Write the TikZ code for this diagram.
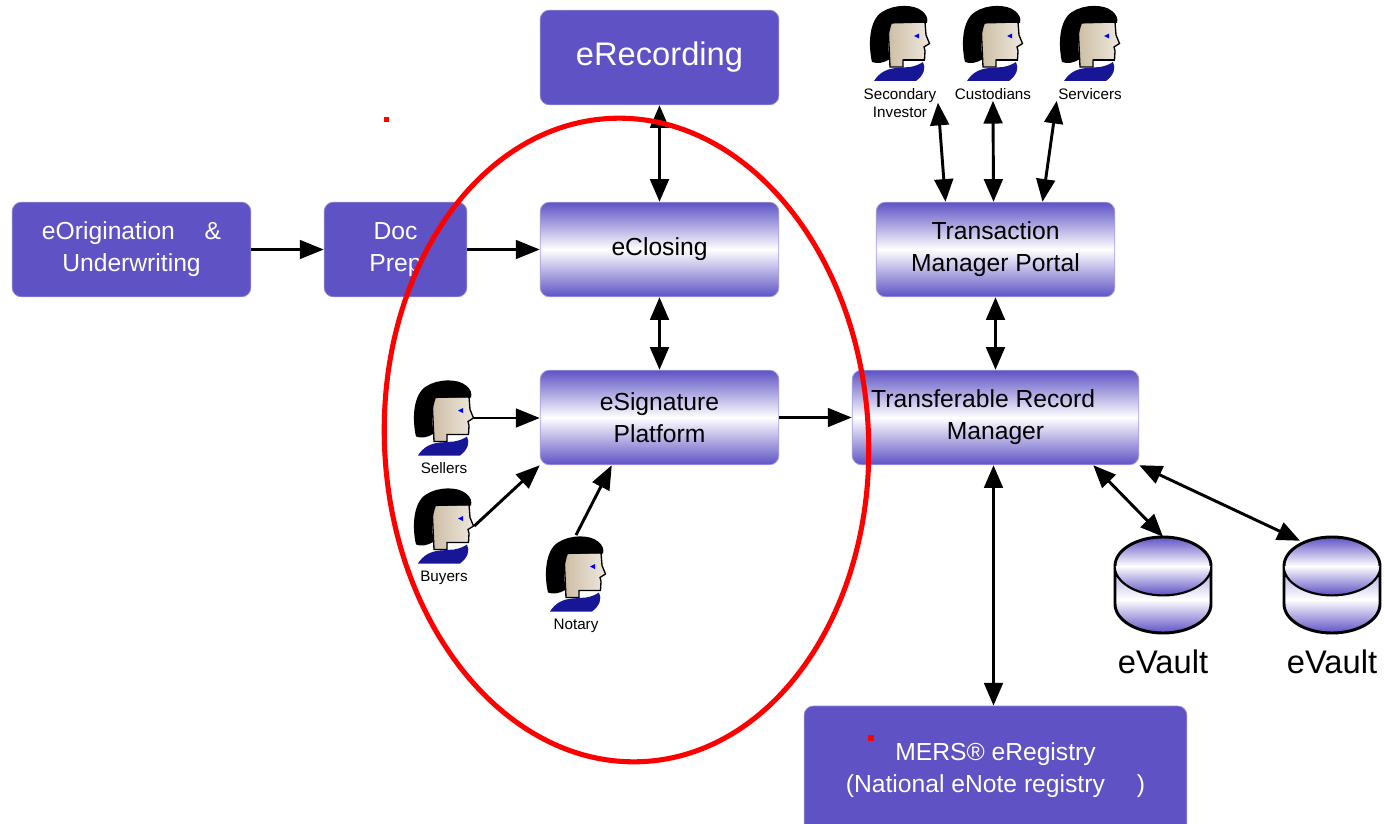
\documentclass[tikz,border=0pt]{standalone}
\usepackage{fontspec}
\setmainfont{Liberation Sans}
\usetikzlibrary{arrows.meta,calc}
\definecolor{boxblue}{RGB}{94,82,196}
\definecolor{facetan}{RGB}{205,190,165}
\definecolor{facelight}{RGB}{238,232,222}
\definecolor{collarblue}{RGB}{22,22,150}
\begin{document}
\begin{tikzpicture}[x=0.75pt, y=-0.75pt,
  solidbox/.style={rectangle, rounded corners=7pt, fill=boxblue, draw=boxblue!70, line width=0.6pt,
    text=white, align=center, inner sep=2pt, font=\fontsize{18.5}{24}\selectfont,
    minimum width=179pt, minimum height=71pt},
  shadebox/.style={rectangle, rounded corners=7pt, top color=boxblue, bottom color=boxblue, middle color=white,
    draw=boxblue!55, line width=0.6pt, align=center, inner sep=2pt, font=\fontsize{18.5}{24}\selectfont,
    minimum width=179pt, minimum height=71pt},
  personlabel/.style={align=center, inner sep=1pt, font=\fontsize{11.4}{13.5}\selectfont},
  arr/.style={-{Triangle[length=18pt, width=14pt]}, line width=2.2pt},
  dblarr/.style={{Triangle[length=17pt, width=14pt]}-{Triangle[length=17pt, width=14pt]}, line width=2.2pt},
  pics/person/.style={code={
    \begin{scope}[shift={(-30,-38.5)}]
      % face
      \path[left color=facetan, right color=facelight, draw=black, line width=1pt]
        (18,18) -- (55,17) -- (56,30) -- (59.5,38.5) -- (54,42) -- (55,46) -- (54.5,55)
        -- (33,55) -- (33,62) -- (20,62) -- cycle;
      % hair
      \fill[black] (2,57) .. controls (-2,40) and (-1,15) .. (12,7) .. controls (24,-1) and (44,-1) .. (52,6)
        .. controls (57,10) and (58,14) .. (57,18) -- (22,18) .. controls (18,28) and (17,42) .. (20,54)
        .. controls (14,58) and (7,59) .. (2,57) -- cycle;
      % collar
      \fill[collarblue] (4,76) .. controls (9,68) and (16,64) .. (26,63) -- (40,62)
        .. controls (46,61) and (50,59) .. (53,57) .. controls (56,63) and (54,70) .. (46,76) -- cycle;
      \draw[line width=1pt] (33,55) -- (55,55);
      \fill[blue] (44,31) -- (49,28.5) -- (49,33.5) -- cycle;
    \end{scope}
    \node[inner sep=0pt, minimum width=45pt, minimum height=58pt] (-icon) {};
    \node[personlabel, anchor=north] (-label) at (0,43) {#1};
  }},
  pics/vault/.style={code={
    \path[top color=boxblue!55, bottom color=boxblue, middle color=white, draw=black, line width=2.2pt]
      (-48,0) -- (-48,38) arc[start angle=180, end angle=0, x radius=48, y radius=29]
      -- (48,0) arc[start angle=0, end angle=180, x radius=48, y radius=29] -- cycle;
    \path[top color=boxblue, bottom color=boxblue, middle color=white, draw=black, line width=1pt]
      (0,0) ellipse [x radius=48, y radius=29];
    \draw[line width=2.2pt] (48,0) arc[start angle=0, end angle=-180, x radius=48, y radius=29];
    \node[inner sep=0pt, minimum size=72pt] (-body) at (0,19) {};
    \node[font=\fontsize{24.5}{30}\selectfont] (-label) at (0,96) {#1};
  }}]
  \useasboundingbox (0,0) rectangle (1385,824);

  % Boxes
  \node[solidbox, font=\fontsize{24.5}{30}\selectfont] at (659.5,57.5) (erec) {eRecording};
  \node[solidbox] at (131.5,249.5) (eorig) {eOrigination\hspace{1.2em}\&\\Underwriting};
  \node[solidbox, minimum width=107pt] at (395.5,249.5) (docprep) {Doc\\Prep};
  \node[shadebox] at (659.5,249.5) (eclose) {eClosing};
  \node[shadebox] at (659.5,417.5) (esig) {eSignature\\Platform};
  \node[shadebox] at (995.5,249.5) (tmp) {Transaction\\Manager Portal};
  \node[shadebox, minimum width=215pt] at (995.5,417.5) (trm) {Transferable Record\hspace*{1em}\\Manager};
  \node[solidbox, minimum width=287pt, minimum height=96pt] at (995.5,770) (mers)
    {MERS® eRegistry\\(National eNote registry\hspace{1.3em})};

  % People
  \pic (secinv) at (900,43.5) {person={Secondary\\Investor}};
  \pic (custod) at (993,43.5) {person=Custodians};
  \pic (servic) at (1090,43.5) {person=Servicers};
  \pic (sellers) at (444,418) {person=Sellers};
  \pic (buyers) at (444,526) {person=Buyers};
  \pic (notary) at (576,574) {person=Notary};

  % Vaults
  \pic (vaulta) at (1163,566) {vault=eVault};
  \pic (vaultb) at (1332,566) {vault=eVault};

  % Lines
  \draw[arr] (eorig) -- (docprep);
  \draw[arr] (docprep) -- (eclose);
  \draw[dblarr] (erec) -- (eclose);
  \draw[dblarr] (eclose) -- (esig);
  \draw[arr] (sellers-icon.east) -- (sellers-icon.east -| esig.west);
  \draw[arr] (buyers-icon.east) -- (esig.south west);
  \draw[arr] (notary-icon.north) -- ($(esig.south west)+(72,0)$);
  \draw[arr] (esig) -- (trm);
  \draw[dblarr] (tmp) -- (trm);
  \draw[dblarr] (secinv-label.east) -- ($(tmp.north)+(-50,0)$);
  \draw[dblarr] (custod-label.south) -- ($(tmp.north)+(-2,0)$);
  \draw[dblarr] (servic-label.south west) -- ($(tmp.north)+(47,0)$);
  \draw[dblarr] ($(trm.south)+(-2,0)$) -- ($(mers.north)+(-2,0)$);
  \draw[dblarr] ($(trm.south east)+(-46,0)$) -- (vaulta-body.north);
  \draw[dblarr] (trm.south east) -- ($(vaultb-body.north)+(-32,4)$);

  % Highlight
  \draw[red, line width=3.8pt, rotate around={3:(626.5,440)}] (626.5,440) ellipse [x radius=242, y radius=322];
  \fill[red] (383.5,116.5) rectangle +(5,5);
  \fill[red] (868,735) rectangle +(6,6);
\end{tikzpicture}
\end{document}
